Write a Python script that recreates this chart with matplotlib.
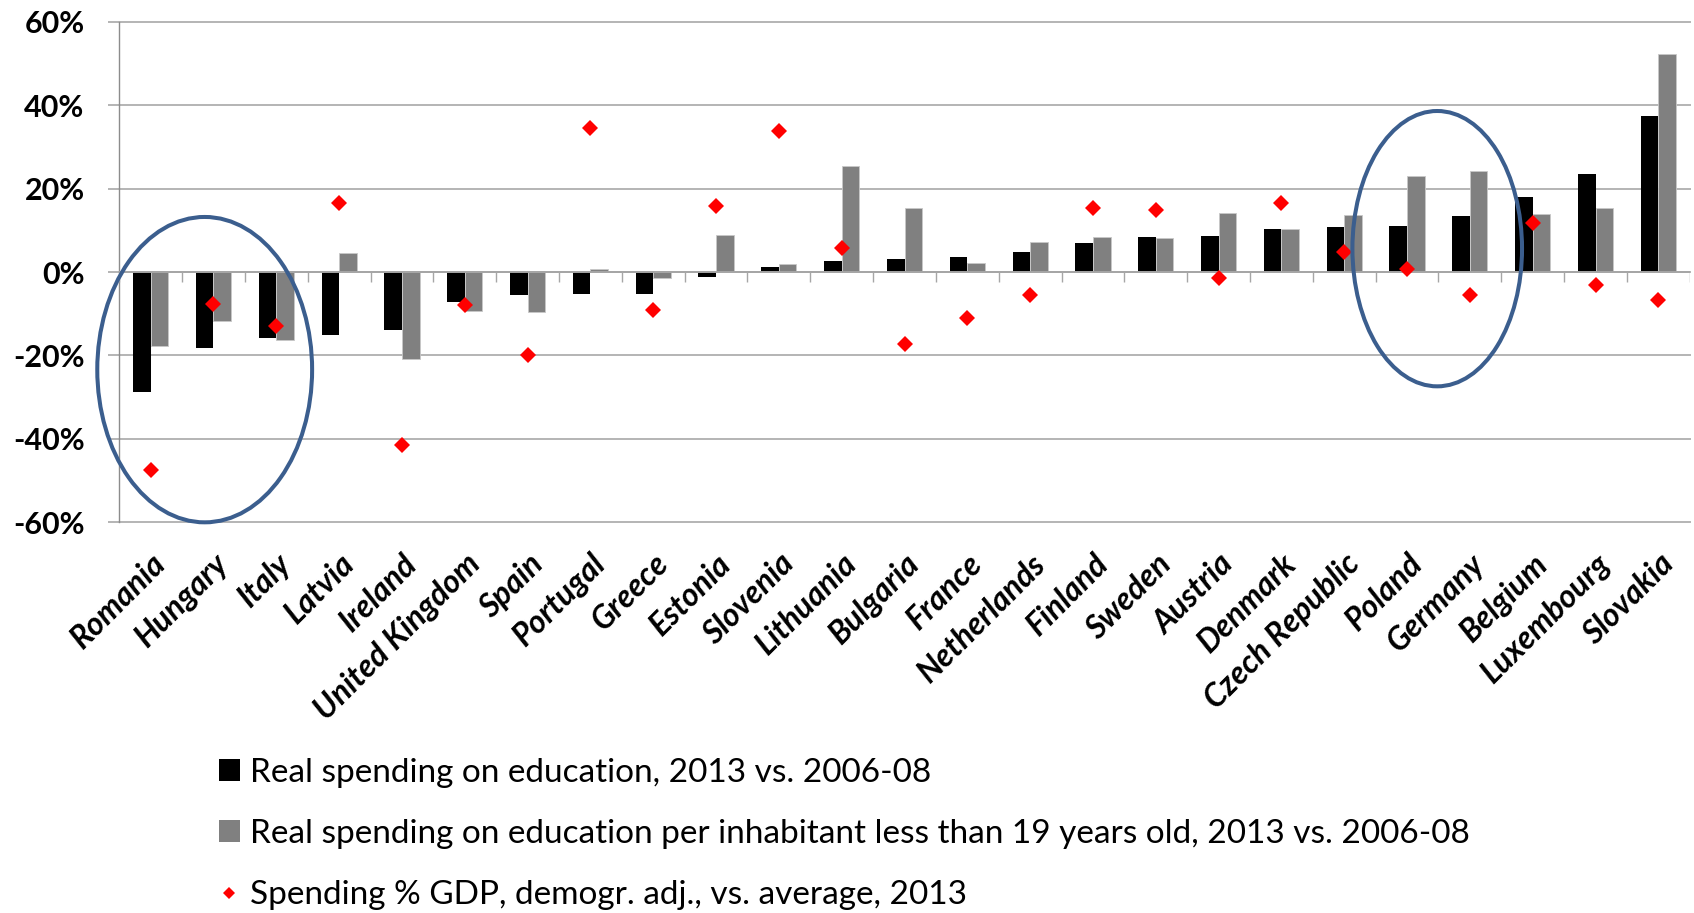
import numpy as np
import matplotlib
matplotlib.use("Agg")
from matplotlib import pyplot as plt
from matplotlib.patches import Ellipse, Patch
from matplotlib.lines import Line2D

plt.rcParams['font.family'] = ['Lato', 'DejaVu Sans']

countries = ["Romania", "Hungary", "Italy", "Latvia", "Ireland", "United Kingdom",
             "Spain", "Portugal", "Greece", "Estonia", "Slovenia", "Lithuania",
             "Bulgaria", "France", "Netherlands", "Finland", "Sweden", "Austria",
             "Denmark", "Czech Republic", "Poland", "Germany", "Belgium",
             "Luxembourg", "Slovakia"]

# % change, 2013 vs. 2006-08
real_spending = [-28.8, -18.1, -15.9, -15.1, -13.8, -7.3, -5.5, -5.3, -5.2, -1.1,
                 1.2, 2.6, 3.2, 3.5, 4.9, 7.0, 8.3, 8.6, 10.3, 10.8,
                 11.0, 13.4, 18.1, 23.6, 37.3]
per_young = [-17.7, -11.8, -16.2, 4.6, -20.8, -9.3, -9.7, 0.8, -1.4, 8.8,
             1.9, 25.3, 15.4, 2.1, 7.2, 8.3, 8.1, 14.2, 10.3, 13.6,
             23.0, 24.1, 13.8, 15.4, 52.2]
# spending % GDP vs. average, 2013
gdp_share = [-47.4, -7.6, -13.0, 16.6, -41.5, -8.0, -19.8, 34.6, -9.1, 15.9,
             33.8, 5.8, -17.2, -11.1, -5.5, 15.4, 14.9, -1.5, 16.5, 4.7,
             0.7, -5.5, 11.8, -3.1, -6.6]

yticks = [60, 40, 20, 0, -20, -40, -60]
ytick_labels = ["60%", "40%", "20%", "0%", "-20%", "-40%", "-60%"]

legend_labels = ["Real spending on education, 2013 vs. 2006-08",
                 "Real spending on education per inhabitant less than 19 years old, 2013 vs. 2006-08",
                 "Spending % GDP, demogr. adj., vs. average, 2013"]

# highlighted groups: (center x, center y, width, height) in data units
circles = [(0.86, -23.4, 3.42, 73.2), (20.48, 5.6, 2.70, 66.0)]

grid_col = "#B4B4B4"
ring_col = "#3B5E8E"

fig = plt.figure(figsize=(16.94, 9.13), dpi=100)
ax = fig.add_axes([0.0704, 0.4279, 0.9271, 0.5483])

x = np.arange(len(countries))
w = 0.28
ax.bar(x - w / 2, real_spending, w, color="black", zorder=3)
ax.bar(x + w / 2, per_young, w, color="#808080", edgecolor="#C8C8C8", linewidth=0.6, zorder=3)
ax.plot(x, gdp_share, linestyle="none", marker="D", markersize=8.6,
        markeredgewidth=0, color="red", zorder=5)

for cx, cy, cw, ch in circles:
    ax.add_patch(Ellipse((cx, cy), cw, ch, fill=False, edgecolor=ring_col,
                         linewidth=2.9, zorder=6, clip_on=False))

# zero axis with category separators
ax.axhline(0, color="#A6A6A6", linewidth=1.4, zorder=4)
ax.vlines(np.arange(len(countries) + 1) - 0.5, -2.4, 0, color="#A6A6A6",
          linewidth=1.0, zorder=4)

ax.set_xlim(-0.5, len(countries) - 0.5)
ax.set_ylim(-60, 60)
ax.set_yticks(yticks)
ax.set_yticklabels(ytick_labels, fontsize=22, fontweight="bold")
ax.tick_params(axis="y", length=8, width=1.4, color=grid_col, pad=17)
ax.grid(axis="y", color=grid_col, linewidth=1.4, zorder=0)
for gl in ax.get_ygridlines():
    gl.set_clip_on(False)

ax.set_xticks(x)
ax.set_xticklabels(countries, rotation=45, ha="right", va="top",
                   rotation_mode="anchor", fontsize=23, fontweight="bold",
                   fontstyle="italic")
ax.tick_params(axis="x", length=0, pad=19)

for s in ["top", "right", "bottom"]:
    ax.spines[s].set_visible(False)
ax.spines["left"].set_color("#8C8C8C")
ax.spines["left"].set_linewidth(1.0)
ax.set_axisbelow(True)

handles = [Patch(facecolor="black"),
           Patch(facecolor="#808080"),
           Line2D([], [], marker="D", linestyle="none", color="red",
                  markersize=6.6, markeredgewidth=0)]
fig.legend(handles, legend_labels, loc="upper left",
           bbox_to_anchor=(219 / 1694, 1 - 758 / 913), frameon=False, fontsize=24,
           handlelength=0.62, handleheight=0.62, handletextpad=0.3,
           labelspacing=0.93, borderpad=0, borderaxespad=0)

fig.savefig("out.png", dpi=100)
